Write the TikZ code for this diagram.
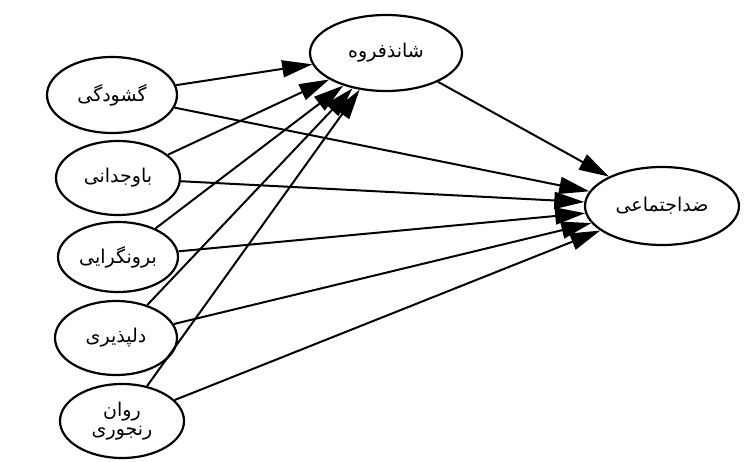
\documentclass[tikz,border=0pt]{standalone}
\usepackage{fontspec}
\usetikzlibrary{shapes.geometric,arrows.meta}
\newfontfamily\arabicfont[Script=Arabic]{DejaVu Sans}
\TeXXeTstate=1
\begin{document}
\begin{tikzpicture}[x=1pt,y=-1pt,
  trait/.style={ellipse,draw,line width=2.2pt,inner sep=0pt,font=\arabicfont\fontsize{19}{21}\selectfont,align=center},
  link/.style={line width=2pt,-{Triangle[length=30pt,width=17pt]}}]
\useasboundingbox (0,0) rectangle (745,462);
\fill[white] (0,0) rectangle (745,462);
\node[trait,minimum width=130pt,minimum height=76pt] (a) at (112,95) {\beginR گشودگی\endR};
\node[trait,minimum width=124pt,minimum height=74pt] (b) at (118,178) {\beginR باوجدانی\endR};
\node[trait,minimum width=120pt,minimum height=70pt] (c) at (118,257) {\beginR برونگرایی\endR};
\node[trait,minimum width=122pt,minimum height=74pt] (d) at (116,338) {\beginR دلپذیری\endR};
\node[trait,minimum width=124pt,minimum height=74pt] (e) at (122,421) {\beginR روان\endR\\[-2pt]\beginR رنجوری\endR};
\node[trait,minimum width=152pt,minimum height=76pt] (m) at (386,53) {\beginR شانذفروه\endR};
\node[trait,minimum width=154pt,minimum height=78pt] (y) at (662,206) {\beginR ضداجتماعی\endR};
\foreach \s in {a,b,c,d,e} {
  \draw[link] (\s) -- (m);
  \draw[link] (\s) -- (y);
}
\draw[link] (m) -- (y);
\end{tikzpicture}
\end{document}
